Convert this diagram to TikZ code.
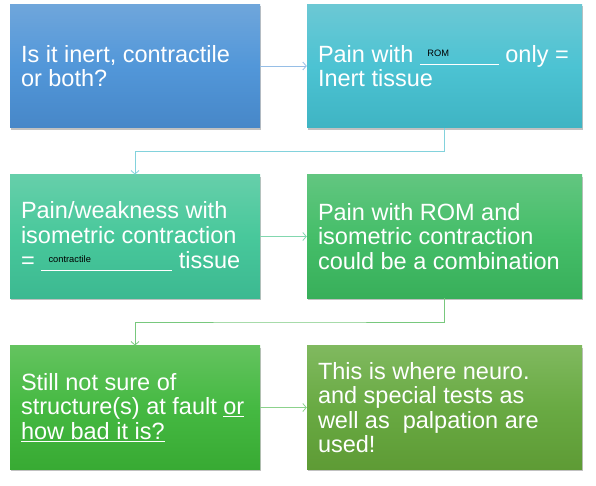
\documentclass[tikz,border=0pt]{standalone}
\usepackage{fontspec}
\setmainfont{Liberation Sans}
\usetikzlibrary{shadows,calc,arrows.meta}
\definecolor{aT}{HTML}{6FA6DB}\definecolor{aM}{HTML}{5297D9}\definecolor{aB}{HTML}{4787C8}
\definecolor{bT}{HTML}{6CC8D4}\definecolor{bM}{HTML}{4CC3D3}\definecolor{bB}{HTML}{3FB4C3}
\definecolor{cT}{HTML}{66CFAA}\definecolor{cM}{HTML}{48C89B}\definecolor{cB}{HTML}{3CB991}
\definecolor{dT}{HTML}{62C680}\definecolor{dM}{HTML}{45BE69}\definecolor{dB}{HTML}{38AF5A}
\definecolor{eT}{HTML}{64C35F}\definecolor{eM}{HTML}{45B942}\definecolor{eB}{HTML}{38AA33}
\definecolor{fT}{HTML}{80B95F}\definecolor{fM}{HTML}{69AA43}\definecolor{fB}{HTML}{5E9B35}
\definecolor{cA}{HTML}{96BEE6}\definecolor{cBc}{HTML}{82D2DC}\definecolor{cC}{HTML}{82D7AF}
\definecolor{cD}{HTML}{78C87D}\definecolor{cE}{HTML}{8CD28C}
\newcommand\fillblank[3]{\rlap{\hspace{#2}\raisebox{5.3pt}{\color{black}\fontsize{9.3}{9.3}\selectfont #3}}\rule[-3.2pt]{#1}{1.1pt}}
\newcommand\wul[1]{\underline{#1}}
\begin{document}
\begin{tikzpicture}[x=1pt,y=-1pt,
  box/.style={rectangle, draw=none, inner sep=0pt, minimum height=123.5pt,
    drop shadow={shadow xshift=1.2pt, shadow yshift=-1.8pt, opacity=.35, fill=black!70}},
  lbox/.style={box, minimum width=250pt},
  rbox/.style={box, minimum width=275pt},
  shade3/.style n args={3}{top color=#1, bottom color=#3, middle color=#2},
  txt/.style={anchor=west, align=left, text=white, inner sep=0pt,
    font=\fontsize{23.5}{24.6}\selectfont},
  conn/.style={line width=0.8pt, -{Straight Barb[length=3.5pt,width=8pt]}}]
\useasboundingbox (0,0) rectangle (596,485);

\node[lbox, shade3={aT}{aM}{aB}] (b1) at (135,66) {};
\node[rbox, shade3={bT}{bM}{bB}] (b2) at (444.5,66) {};
\node[lbox, shade3={cT}{cM}{cB}] (b3) at (135,236.5) {};
\node[rbox, shade3={dT}{dM}{dB}] (b4) at (444.5,236.5) {};
\node[lbox, shade3={eT}{eM}{eB}] (b5) at (135,407.5) {};
\node[rbox, shade3={fT}{fM}{fB}] (b6) at (444.5,407.5) {};

\node[txt] (t1) at ([xshift=11pt]b1.west) {Is it inert, contractile\\or both?};
\node[txt] (t2) at ([xshift=11pt]b2.west) {Pain with \fillblank{79pt}{7.5pt}{ROM} only =\\Inert tissue};
\node[txt] (t3) at ([xshift=11pt]b3.west) {Pain/weakness with\\isometric contraction\\= \fillblank{131pt}{7.3pt}{contractile} tissue};
\node[txt] (t4) at ([xshift=11pt]b4.west) {Pain with ROM and\\isometric contraction\\could be a combination};
\node[txt] (t5) at ([xshift=11pt]b5.west) {Still not sure of\\structure(s) at fault \wul{or}\\\wul{how bad it is?}};
\node[txt] (t6) at ([xshift=11pt]b6.west) {This is where neuro.\\and special tests as\\well as~ palpation are\\used!};

\draw[conn, cA] (b1.east) -- (b2.west);
\draw[conn, cBc] (b2.south) |- ($(b2.south)!.5!(b3.north)$) -| (b3.north);
\draw[conn, cC] (b3.east) -- (b4.west);
\draw[conn, cD] (b4.south) |- ($(b4.south)!.5!(b5.north)$) -| (b5.north);
\draw[conn, cE] (b5.east) -- (b6.west);
\end{tikzpicture}
\end{document}
